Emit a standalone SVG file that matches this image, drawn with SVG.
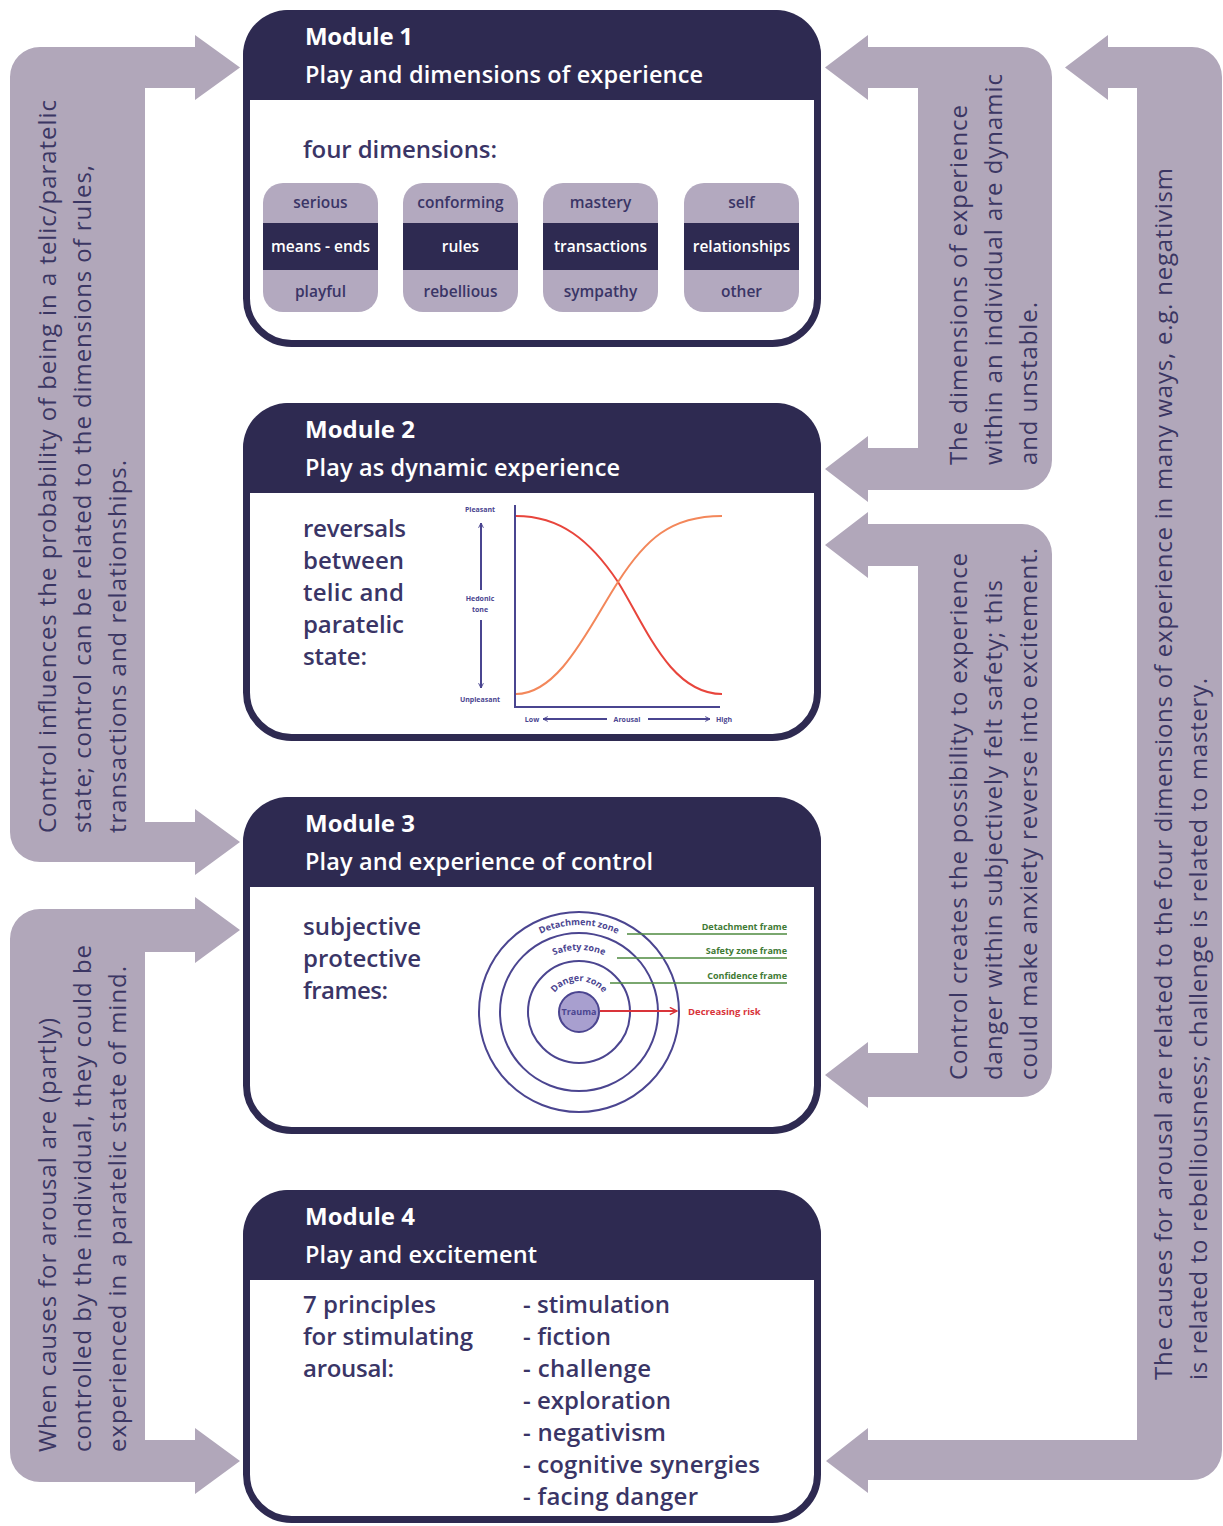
<svg xmlns="http://www.w3.org/2000/svg" width="1223" height="1526" viewBox="0 0 1223 1526">
<defs>
<style>
.arr{fill:#b1a7ba}
.hdr{fill:#2e2a51}
.box{fill:#fff;stroke:#2e2a51;stroke-width:7}
.ht{font-family:'Open Sans',sans-serif;fill:#fff;font-weight:700;font-size:24px}
.hs{font-family:'Open Sans',sans-serif;fill:#fff;font-weight:600;font-size:23.5px}
.bt{font-family:'Open Sans',sans-serif;font-weight:600;font-size:24px;fill:#3a3566}
.at{font-family:'Open Sans',sans-serif;font-size:24px;fill:#3b3663}
.pl{fill:#b3a9bf}
.pd{fill:#2e2a51}
.pt{font-family:'Open Sans',sans-serif;font-size:15.5px;font-weight:600;fill:#3a3566;text-anchor:middle}
.pw{fill:#fff}
.ax{fill:none;stroke:#4a4590;stroke-width:2}
.cl{font-family:'Open Sans',sans-serif;font-size:7px;font-weight:700;fill:#4a4590;text-anchor:middle}
.ring{fill:none;stroke:#4b4590;stroke-width:2}
.zl{font-family:'Open Sans',sans-serif;font-size:9px;font-weight:700;fill:#4b4590}
.gl{stroke:#4e8a3f;stroke-width:1.3}
.gt{font-family:'Open Sans',sans-serif;font-size:9px;font-weight:700;fill:#3f7a35;text-anchor:end}
</style>
<marker id="ah" viewBox="0 0 10 10" refX="9" refY="5" markerWidth="6" markerHeight="6" orient="auto-start-reverse" markerUnits="userSpaceOnUse">
<path d="M1,1 L9,5 L1,9" fill="none" stroke="#4a4590" stroke-width="1.6"/>
</marker>
<marker id="rh" viewBox="0 0 10 10" refX="9" refY="5" markerWidth="9" markerHeight="9" orient="auto" markerUnits="userSpaceOnUse">
<path d="M1,1 L9,5 L1,9" fill="none" stroke="#d9343a" stroke-width="1.6"/>
</marker>
<path id="arcD" d="M492,1012 A87 87 0 0 1 666,1012"/>
<path id="arcS" d="M517,1012 A62 62 0 0 1 641,1012"/>
<path id="arcG" d="M548,1012 A31 31 0 0 1 610,1012"/>
</defs>

<g id="connectors">
<path class="arr" d="M240,67.5 L195,35 L195,47 L40,47 A30 30 0 0 0 10,77 L10,832 A30 30 0 0 0 40,862 L195,862 L195,875 L240,842 L195,809 L195,822 L145,822 L145,88 L195,88 L195,100 Z"/>
<path class="arr" d="M240,930 L195,897 L195,909 L40,909 A30 30 0 0 0 10,939 L10,1452 A30 30 0 0 0 40,1482 L195,1482 L195,1494 L240,1461 L195,1428 L195,1440 L145,1440 L145,952 L195,952 L195,963 Z"/>
<path class="arr" d="M825,67.5 L868,35 L868,47 L1022,47 A30 30 0 0 1 1052,77 L1052,460 A30 30 0 0 1 1022,490 L868,490 L868,502 L825,469 L868,436 L868,448 L918,448 L918,88 L868,88 L868,100 Z"/>
<path class="arr" d="M825,545 L868,512 L868,524 L1022,524 A30 30 0 0 1 1052,554 L1052,1067 A30 30 0 0 1 1022,1097 L868,1097 L868,1108 L825,1075 L868,1042 L868,1053 L918,1053 L918,566 L868,566 L868,578 Z"/>
<path class="arr" d="M1065,67.5 L1108,35 L1108,47 L1192,47 A30 30 0 0 1 1222,77 L1222,1450 A30 30 0 0 1 1192,1480 L868,1480 L868,1493 L826,1461 L868,1428 L868,1440 L1137,1440 L1137,88 L1108,88 L1108,100 Z"/>
<text class="at" transform="translate(56,833) rotate(-90)" textLength="733">Control influences the probability of being in a telic/paratelic</text>
<text class="at" transform="translate(91,833) rotate(-90)" textLength="668">state; control can be related to the dimensions of rules,</text>
<text class="at" transform="translate(126,833) rotate(-90)" textLength="373">transactions and relationships.</text>
<text class="at" transform="translate(56,1452) rotate(-90)" textLength="434">When causes for arousal are (partly)</text>
<text class="at" transform="translate(91,1452) rotate(-90)" textLength="507">controlled by the individual, they could be</text>
<text class="at" transform="translate(126,1452) rotate(-90)" textLength="486">experienced in a paratelic state of mind.</text>
<text class="at" transform="translate(967,465) rotate(-90)" textLength="360">The dimensions of experience</text>
<text class="at" transform="translate(1002,465) rotate(-90)" textLength="391">within an individual are dynamic</text>
<text class="at" transform="translate(1037,465) rotate(-90)" textLength="163">and unstable.</text>
<text class="at" transform="translate(967,1080) rotate(-90)" textLength="527">Control creates the possibility to experience</text>
<text class="at" transform="translate(1002,1080) rotate(-90)" textLength="500">danger within subjectively felt safety; this</text>
<text class="at" transform="translate(1037,1080) rotate(-90)" textLength="532">could make anxiety reverse into excitement.</text>
<text class="at" transform="translate(1172,1380) rotate(-90)" textLength="1212">The causes for arousal are related to the four dimensions of experience in many ways, e.g. negativism</text>
<text class="at" transform="translate(1207,1380) rotate(-90)" textLength="702">is related to rebelliousness; challenge is related to mastery.</text>
</g>

<g id="module1">
<rect class="box" x="246.5" y="13.5" width="571" height="330" rx="45"/>
<path class="hdr" d="M243,100 L243,55 A45 45 0 0 1 288,10 L776,10 A45 45 0 0 1 821,55 L821,100 Z"/>
<text class="ht" x="305" y="45" textLength="108">Module 1</text>
<text class="hs" x="305" y="83" textLength="398">Play and dimensions of experience</text>
<text class="bt" x="303" y="158" textLength="194">four dimensions:</text>
<g id="pill-means">
<rect class="pl" x="263" y="183" width="115" height="129" rx="20"/>
<rect class="pd" x="263" y="223" width="115" height="47"/>
<text class="pt" x="320.5" y="208">serious</text>
<text class="pt pw" x="320.5" y="252">means - ends</text>
<text class="pt" x="320.5" y="297">playful</text>
</g>
<g id="pill-rules">
<rect class="pl" x="403" y="183" width="115" height="129" rx="20"/>
<rect class="pd" x="403" y="223" width="115" height="47"/>
<text class="pt" x="460.5" y="208">conforming</text>
<text class="pt pw" x="460.5" y="252">rules</text>
<text class="pt" x="460.5" y="297">rebellious</text>
</g>
<g id="pill-transactions">
<rect class="pl" x="543" y="183" width="115" height="129" rx="20"/>
<rect class="pd" x="543" y="223" width="115" height="47"/>
<text class="pt" x="600.5" y="208">mastery</text>
<text class="pt pw" x="600.5" y="252">transactions</text>
<text class="pt" x="600.5" y="297">sympathy</text>
</g>
<g id="pill-relationships">
<rect class="pl" x="684" y="183" width="115" height="129" rx="20"/>
<rect class="pd" x="684" y="223" width="115" height="47"/>
<text class="pt" x="741.5" y="208">self</text>
<text class="pt pw" x="741.5" y="252">relationships</text>
<text class="pt" x="741.5" y="297">other</text>
</g>
</g>

<g id="module2">
<rect class="box" x="246.5" y="406.5" width="571" height="331" rx="45"/>
<path class="hdr" d="M243,493 L243,448 A45 45 0 0 1 288,403 L776,403 A45 45 0 0 1 821,448 L821,493 Z"/>
<text class="ht" x="305" y="438" textLength="110">Module 2</text>
<text class="hs" x="305" y="476" textLength="315">Play as dynamic experience</text>
<text class="bt" x="303" y="537" textLength="103">reversals</text>
<text class="bt" x="303" y="569" textLength="101">between</text>
<text class="bt" x="303" y="601" textLength="101">telic and</text>
<text class="bt" x="303" y="633" textLength="101">paratelic</text>
<text class="bt" x="303" y="665" textLength="64">state:</text>
<g id="chart">
<path class="ax" d="M515,505 L515,707 L720,707"/>
<path d="M516,516 C560,516 590,540 618,582 C645,625 670,694 722,694" fill="none" stroke="#e8453c" stroke-width="2"/>
<path d="M516,694 C560,694 590,625 618,582 C645,540 670,516 722,516" fill="none" stroke="#f3875a" stroke-width="2"/>
<line class="ax" x1="481" y1="590" x2="481" y2="523" marker-end="url(#ah)"/>
<line class="ax" x1="481" y1="620" x2="481" y2="688" marker-end="url(#ah)"/>
<line class="ax" x1="607" y1="719" x2="543" y2="719" marker-end="url(#ah)"/>
<line class="ax" x1="648" y1="719" x2="710" y2="719" marker-end="url(#ah)"/>
<text class="cl" x="480" y="512">Pleasant</text>
<text class="cl" x="480" y="601">Hedonic</text>
<text class="cl" x="480" y="612">tone</text>
<text class="cl" x="480" y="702">Unpleasant</text>
<text class="cl" x="532" y="722">Low</text>
<text class="cl" x="627" y="722">Arousal</text>
<text class="cl" x="724" y="722">High</text>
</g>
</g>

<g id="module3">
<rect class="box" x="246.5" y="800.5" width="571" height="330" rx="45"/>
<path class="hdr" d="M243,887 L243,842 A45 45 0 0 1 288,797 L776,797 A45 45 0 0 1 821,842 L821,887 Z"/>
<text class="ht" x="305" y="832" textLength="110">Module 3</text>
<text class="hs" x="305" y="870" textLength="348">Play and experience of control</text>
<text class="bt" x="303" y="935" textLength="118">subjective</text>
<text class="bt" x="303" y="967" textLength="118">protective</text>
<text class="bt" x="303" y="999" textLength="85">frames:</text>
<g id="frames">
<circle class="ring" cx="579" cy="1012" r="100"/>
<circle class="ring" cx="579" cy="1012" r="79"/>
<circle class="ring" cx="579" cy="1012" r="51"/>
<circle cx="579" cy="1012" r="20" fill="#a89fcf" stroke="#4b4590" stroke-width="2"/>
<text class="zl" text-anchor="middle"><textPath href="#arcD" startOffset="50%">Detachment zone</textPath></text>
<text class="zl" text-anchor="middle"><textPath href="#arcS" startOffset="50%">Safety zone</textPath></text>
<text class="zl" text-anchor="middle"><textPath href="#arcG" startOffset="50%">Danger zone</textPath></text>
<text class="zl" x="579" y="1015" text-anchor="middle" font-size="8.5">Trauma</text>
<line class="gl" x1="627" y1="934" x2="787" y2="934"/>
<line class="gl" x1="617" y1="958" x2="787" y2="958"/>
<line class="gl" x1="610" y1="983" x2="787" y2="983"/>
<text class="gt" x="787" y="930">Detachment frame</text>
<text class="gt" x="787" y="954">Safety zone frame</text>
<text class="gt" x="787" y="979">Confidence frame</text>
<line x1="600" y1="1011" x2="677" y2="1011" stroke="#d9343a" stroke-width="2" marker-end="url(#rh)"/>
<text x="688" y="1015" font-family="'Open Sans',sans-serif" font-size="9.5" font-weight="700" fill="#d9343a">Decreasing risk</text>
</g>
</g>

<g id="module4">
<rect class="box" x="246.5" y="1193.5" width="571" height="326" rx="45"/>
<path class="hdr" d="M243,1280 L243,1235 A45 45 0 0 1 288,1190 L776,1190 A45 45 0 0 1 821,1235 L821,1280 Z"/>
<text class="ht" x="305" y="1225" textLength="110">Module 4</text>
<text class="hs" x="305" y="1263" textLength="232">Play and excitement</text>
<text class="bt" x="303" y="1313" textLength="133">7 principles</text>
<text class="bt" x="303" y="1345" textLength="170">for stimulating</text>
<text class="bt" x="303" y="1377" textLength="91">arousal:</text>
<text class="bt" x="523" y="1313" textLength="147">- stimulation</text>
<text class="bt" x="523" y="1345" textLength="88">- fiction</text>
<text class="bt" x="523" y="1377" textLength="128">- challenge</text>
<text class="bt" x="523" y="1409" textLength="148">- exploration</text>
<text class="bt" x="523" y="1441" textLength="143">- negativism</text>
<text class="bt" x="523" y="1473" textLength="237">- cognitive synergies</text>
<text class="bt" x="523" y="1505" textLength="175">- facing danger</text>
</g>
</svg>
